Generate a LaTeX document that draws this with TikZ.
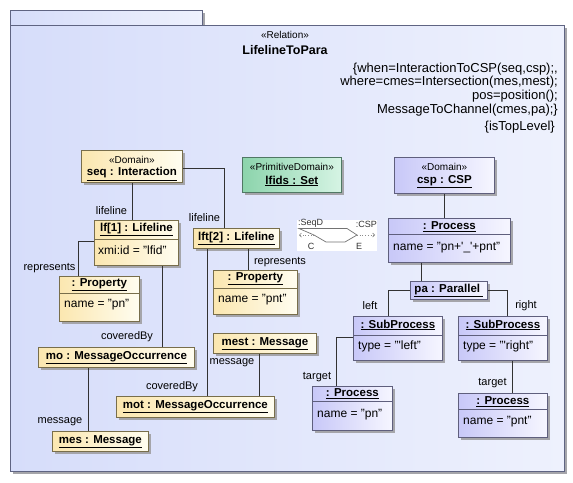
\documentclass[tikz,border=0pt]{standalone}
\usepackage{fontspec}
\setmainfont{Liberation Sans}
\usetikzlibrary{shadows,arrows.meta,calc}
\definecolor{yleft}{RGB}{251,231,176}
\definecolor{yright}{RGB}{255,253,240}
\definecolor{bleft}{RGB}{200,200,248}
\definecolor{bright}{RGB}{246,246,255}
\definecolor{gleft}{RGB}{140,212,172}
\definecolor{gright}{RGB}{214,244,228}
\definecolor{fleft}{RGB}{214,221,250}
\definecolor{fright}{RGB}{238,241,253}
\definecolor{ybord}{RGB}{120,110,75}
\definecolor{bbord}{RGB}{95,95,125}
\definecolor{gbord}{RGB}{80,120,100}
\definecolor{frameb}{RGB}{95,100,130}
\definecolor{shadowc}{RGB}{165,165,170}
\definecolor{linec}{RGB}{50,50,50}
\begin{document}
\begin{tikzpicture}[x=1pt,y=-1pt,
  shad/.style={drop shadow={shadow xshift=3pt,shadow yshift=-3pt,fill=shadowc,opacity=1}},
  umlbox/.style={inner sep=0pt, anchor=north west, shad, line width=0.8pt},
  ybox/.style={umlbox, draw=ybord, left color=yleft, right color=yright},
  bbox/.style={umlbox, draw=bbord, left color=bleft, right color=bright},
  gbox/.style={umlbox, draw=gbord, left color=gleft, right color=gright},
  ttl/.style={font=\fontsize{11.5}{13}\selectfont\bfseries, inner sep=0pt},
  attr/.style={font=\fontsize{12}{14}\selectfont, inner sep=0pt, anchor=west},
  ster/.style={font=\fontsize{10}{12}\selectfont, inner sep=0pt},
  lbl/.style={font=\fontsize{11}{13}\selectfont, inner sep=0pt},
  cstr/.style={font=\fontsize{13}{14}\selectfont, inner sep=0pt, anchor=east},
  conn/.style={draw=linec, line width=0.8pt},
  divline/.style={line width=0.8pt},
  icontxt/.style={font=\fontsize{9}{10}\selectfont, inner sep=0pt, text=black!80}
]
\useasboundingbox (0,0) rectangle (573,482);

% frame
\node[umlbox, draw=frameb, left color=fleft, right color=fright, minimum width=192pt, minimum height=16pt] (tab) at (10,10) {};
\node[umlbox, draw=frameb, left color=fleft, right color=fright, minimum width=554pt, minimum height=446pt] (frame) at (10,25) {};
\node[ster] (stRel) at (285,35) {«Relation»};
\node[inner sep=0pt, font=\fontsize{12.5}{14}\selectfont\bfseries] (fname) at (285,50) {LifelineToPara};
\node[cstr] (c1) at (558,69) {\{when=InteractionToCSP(seq,csp);,};
\node[cstr] (c2) at (558,82) {where=cmes=Intersection(mes,mest);};
\node[cstr] (c3) at (558,96) {pos=position();};
\node[cstr] (c4) at (558,110) {MessageToChannel(cmes,pa);\}};
\node[cstr] (c5) at (555,127) {\{isTopLevel\}};

% seq
\node[ybox, minimum width=101pt, minimum height=32pt] (seq) at (81,150) {};
\node[ster] (seqS) at (seq.north |- 0,160) {«Domain»};
\node[ttl] (seqT) at (seq.north |- 0,174) {\underline{seq : Interaction}};

% lf1
\node[ybox, minimum width=84pt, minimum height=45pt] (lf1) at (94,220) {};
\draw[divline, ybord] (lf1.west |- 0,239) -- (lf1.east |- 0,239);
\node[ttl] (lf1T) at (lf1.north |- 0,229.5) {\underline{lf[1] : Lifeline}};
\node[attr] (lf1A) at (98,250) {xmi:id = "lfid"};

% propL
\node[ybox, minimum width=80pt, minimum height=45pt] (propL) at (59,276) {};
\draw[divline, ybord] (propL.west |- 0,293) -- (propL.east |- 0,293);
\node[ttl] (propLT) at (propL.north |- 0,284.5) {\underline{: Property}};
\node[attr] (propLA) at (64,305) {name = "pn"};

% mo
\node[ybox, minimum width=156pt, minimum height=20pt] (mo) at (38,347) {};
\node[ttl] (moT) at (mo.center) {\underline{mo : MessageOccurrence}};

% mes
\node[ybox, minimum width=96pt, minimum height=20pt] (mes) at (52,431) {};
\node[ttl] (mesT) at (mes.center) {\underline{mes : Message}};

% lft2
\node[ybox, minimum width=86pt, minimum height=20pt] (lft2) at (193,228) {};
\node[ttl] (lft2T) at (lft2.center) {\underline{lft[2] : Lifeline}};

% propR
\node[ybox, minimum width=84pt, minimum height=44pt] (propR) at (213,270) {};
\draw[divline, ybord] (propR.west |- 0,288) -- (propR.east |- 0,288);
\node[ttl] (propRT) at (propR.north |- 0,279) {\underline{: Property}};
\node[attr] (propRA) at (218,299.5) {name = "pnt"};

% mest
\node[ybox, minimum width=103pt, minimum height=20pt] (mest) at (213,333) {};
\node[ttl] (mestT) at (mest.center) {\underline{mest : Message}};

% mot
\node[ybox, minimum width=158pt, minimum height=21pt] (mot) at (116,396) {};
\node[ttl] (motT) at (mot.center) {\underline{mot : MessageOccurrence}};

% lfids
\node[gbox, minimum width=99pt, minimum height=35pt] (lfids) at (242,157) {};
\node[ster] (lfidsS) at (lfids.north |- 0,167) {«PrimitiveDomain»};
\node[ttl] (lfidsT) at (lfids.north |- 0,181) {\underline{lfids : Set}};

% icon
\node[fill=white, inner sep=0pt, anchor=north west, minimum width=80pt, minimum height=31pt] (icon) at (297,220) {};
\draw[black!55, line width=0.7pt] (299,228.5) -- (326,228.5) -- (347,228.5) -- (357,235) -- (345,242) -- (326,242) -- (314,235) -- cycle;
\draw[black!45, dotted, line width=0.7pt, -{Straight Barb[length=2pt,width=4pt]}] (314,235) -- (299,235);
\draw[black!45, dotted, line width=0.7pt, -{Straight Barb[length=2pt,width=4pt]}] (357,235) -- (375,235);
\node[icontxt, anchor=south west] (iS) at (298,228) {:SeqD};
\node[icontxt, anchor=south east] (iC) at (377,228) {:CSP};
\node[icontxt] (iCC) at (311,246.5) {C};
\node[icontxt] (iE) at (359,246.5) {E};

% csp
\node[bbox, minimum width=100pt, minimum height=36pt] (csp) at (394,157) {};
\node[ster] (cspS) at (csp.north |- 0,167) {«Domain»};
\node[ttl] (cspT) at (csp.north |- 0,182) {\underline{csp : CSP}};

% proc1
\node[bbox, minimum width=122pt, minimum height=44pt] (proc1) at (388,218) {};
\draw[divline, bbord] (proc1.west |- 0,234) -- (proc1.east |- 0,234);
\node[ttl] (proc1T) at (proc1.north |- 0,226.5) {\underline{: Process}};
\node[attr] (proc1A) at (393,247.5) {name = "pn+\textquotesingle\_\textquotesingle+pnt"};

% pa
\node[bbox, minimum width=77pt, minimum height=18pt] (pa) at (410,281) {};
\node[ttl] (paT) at (pa.center) {\underline{pa : Parallel\ }};

% spL
\node[bbox, minimum width=89pt, minimum height=44pt] (spL) at (353,316) {};
\draw[divline, bbord] (spL.west |- 0,335) -- (spL.east |- 0,335);
\node[ttl] (spLT) at (spL.north |- 0,325) {\underline{: SubProcess}};
\node[attr] (spLA) at (358,346) {type = "\textquotesingle left"};

% spR
\node[bbox, minimum width=89pt, minimum height=44pt] (spR) at (458,316) {};
\draw[divline, bbord] (spR.west |- 0,335) -- (spR.east |- 0,335);
\node[ttl] (spRT) at (spR.north |- 0,325) {\underline{: SubProcess}};
\node[attr] (spRA) at (463,346) {type = "\textquotesingle right"};

% procL
\node[bbox, minimum width=80pt, minimum height=44pt] (procL) at (312,386) {};
\draw[divline, bbord] (procL.west |- 0,401) -- (procL.east |- 0,401);
\node[ttl] (procLT) at (procL.north |- 0,394) {\underline{: Process}};
\node[attr] (procLA) at (317,415) {name = "pn"};

% procR
\node[bbox, minimum width=89pt, minimum height=44pt] (procR) at (458,393) {};
\draw[divline, bbord] (procR.west |- 0,409) -- (procR.east |- 0,409);
\node[ttl] (procRT) at (procR.north |- 0,401.5) {\underline{: Process}};
\node[attr] (procRA) at (463,422) {name = "pnt"};

% connectors
\draw[conn] (seq.south) -- (lf1.north -| seq.south);
\node[lbl] (l1) at (111.5,211) {lifeline};
\draw[conn] (seq.east |- 0,168) -| (224,0 |- lft2.north);
\node[lbl] (l2) at (204.5,218) {lifeline};
\draw[conn] (lf1.west |- 0,241) -| (78,0 |- propL.north);
\node[lbl] (l3) at (49.5,268) {represents};
\draw[conn] (162,0 |- lf1.south) -- (162,0 |- mo.north);
\node[lbl] (l4) at (127,337) {coveredBy};
\draw[conn] (88,0 |- mo.south) -- (88,0 |- mes.north);
\node[lbl] (l5) at (60,422) {message};
\draw[conn] (248,0 |- lft2.south) -- (248,0 |- propR.north);
\node[lbl] (l6) at (280,262) {represents};
\draw[conn] (207,0 |- lft2.south) -- (207,0 |- mot.north);
\node[lbl] (l7) at (172,387) {coveredBy};
\draw[conn] (259,0 |- mest.south) -- (259,0 |- mot.north);
\node[lbl] (l8) at (232,363) {message};
\draw[conn] (csp.south) -- (proc1.north -| csp.south);
\draw[conn] (421,0 |- proc1.south) -- (421,0 |- pa.north);
\draw[conn] (pa.west) -| (388,0 |- spL.north);
\node[lbl] (l9) at (370,306) {left};
\draw[conn] (pa.east) -| (507,0 |- spR.north);
\node[lbl] (l10) at (526,306) {right};
\draw[conn] (spL.west |- 0,337) -| (336,0 |- procL.north);
\node[lbl] (l11) at (317,377) {target};
\draw[conn] (512,0 |- spR.south) -- (512,0 |- procR.north);
\node[lbl] (l12) at (492.5,383) {target};
\end{tikzpicture}
\end{document}
